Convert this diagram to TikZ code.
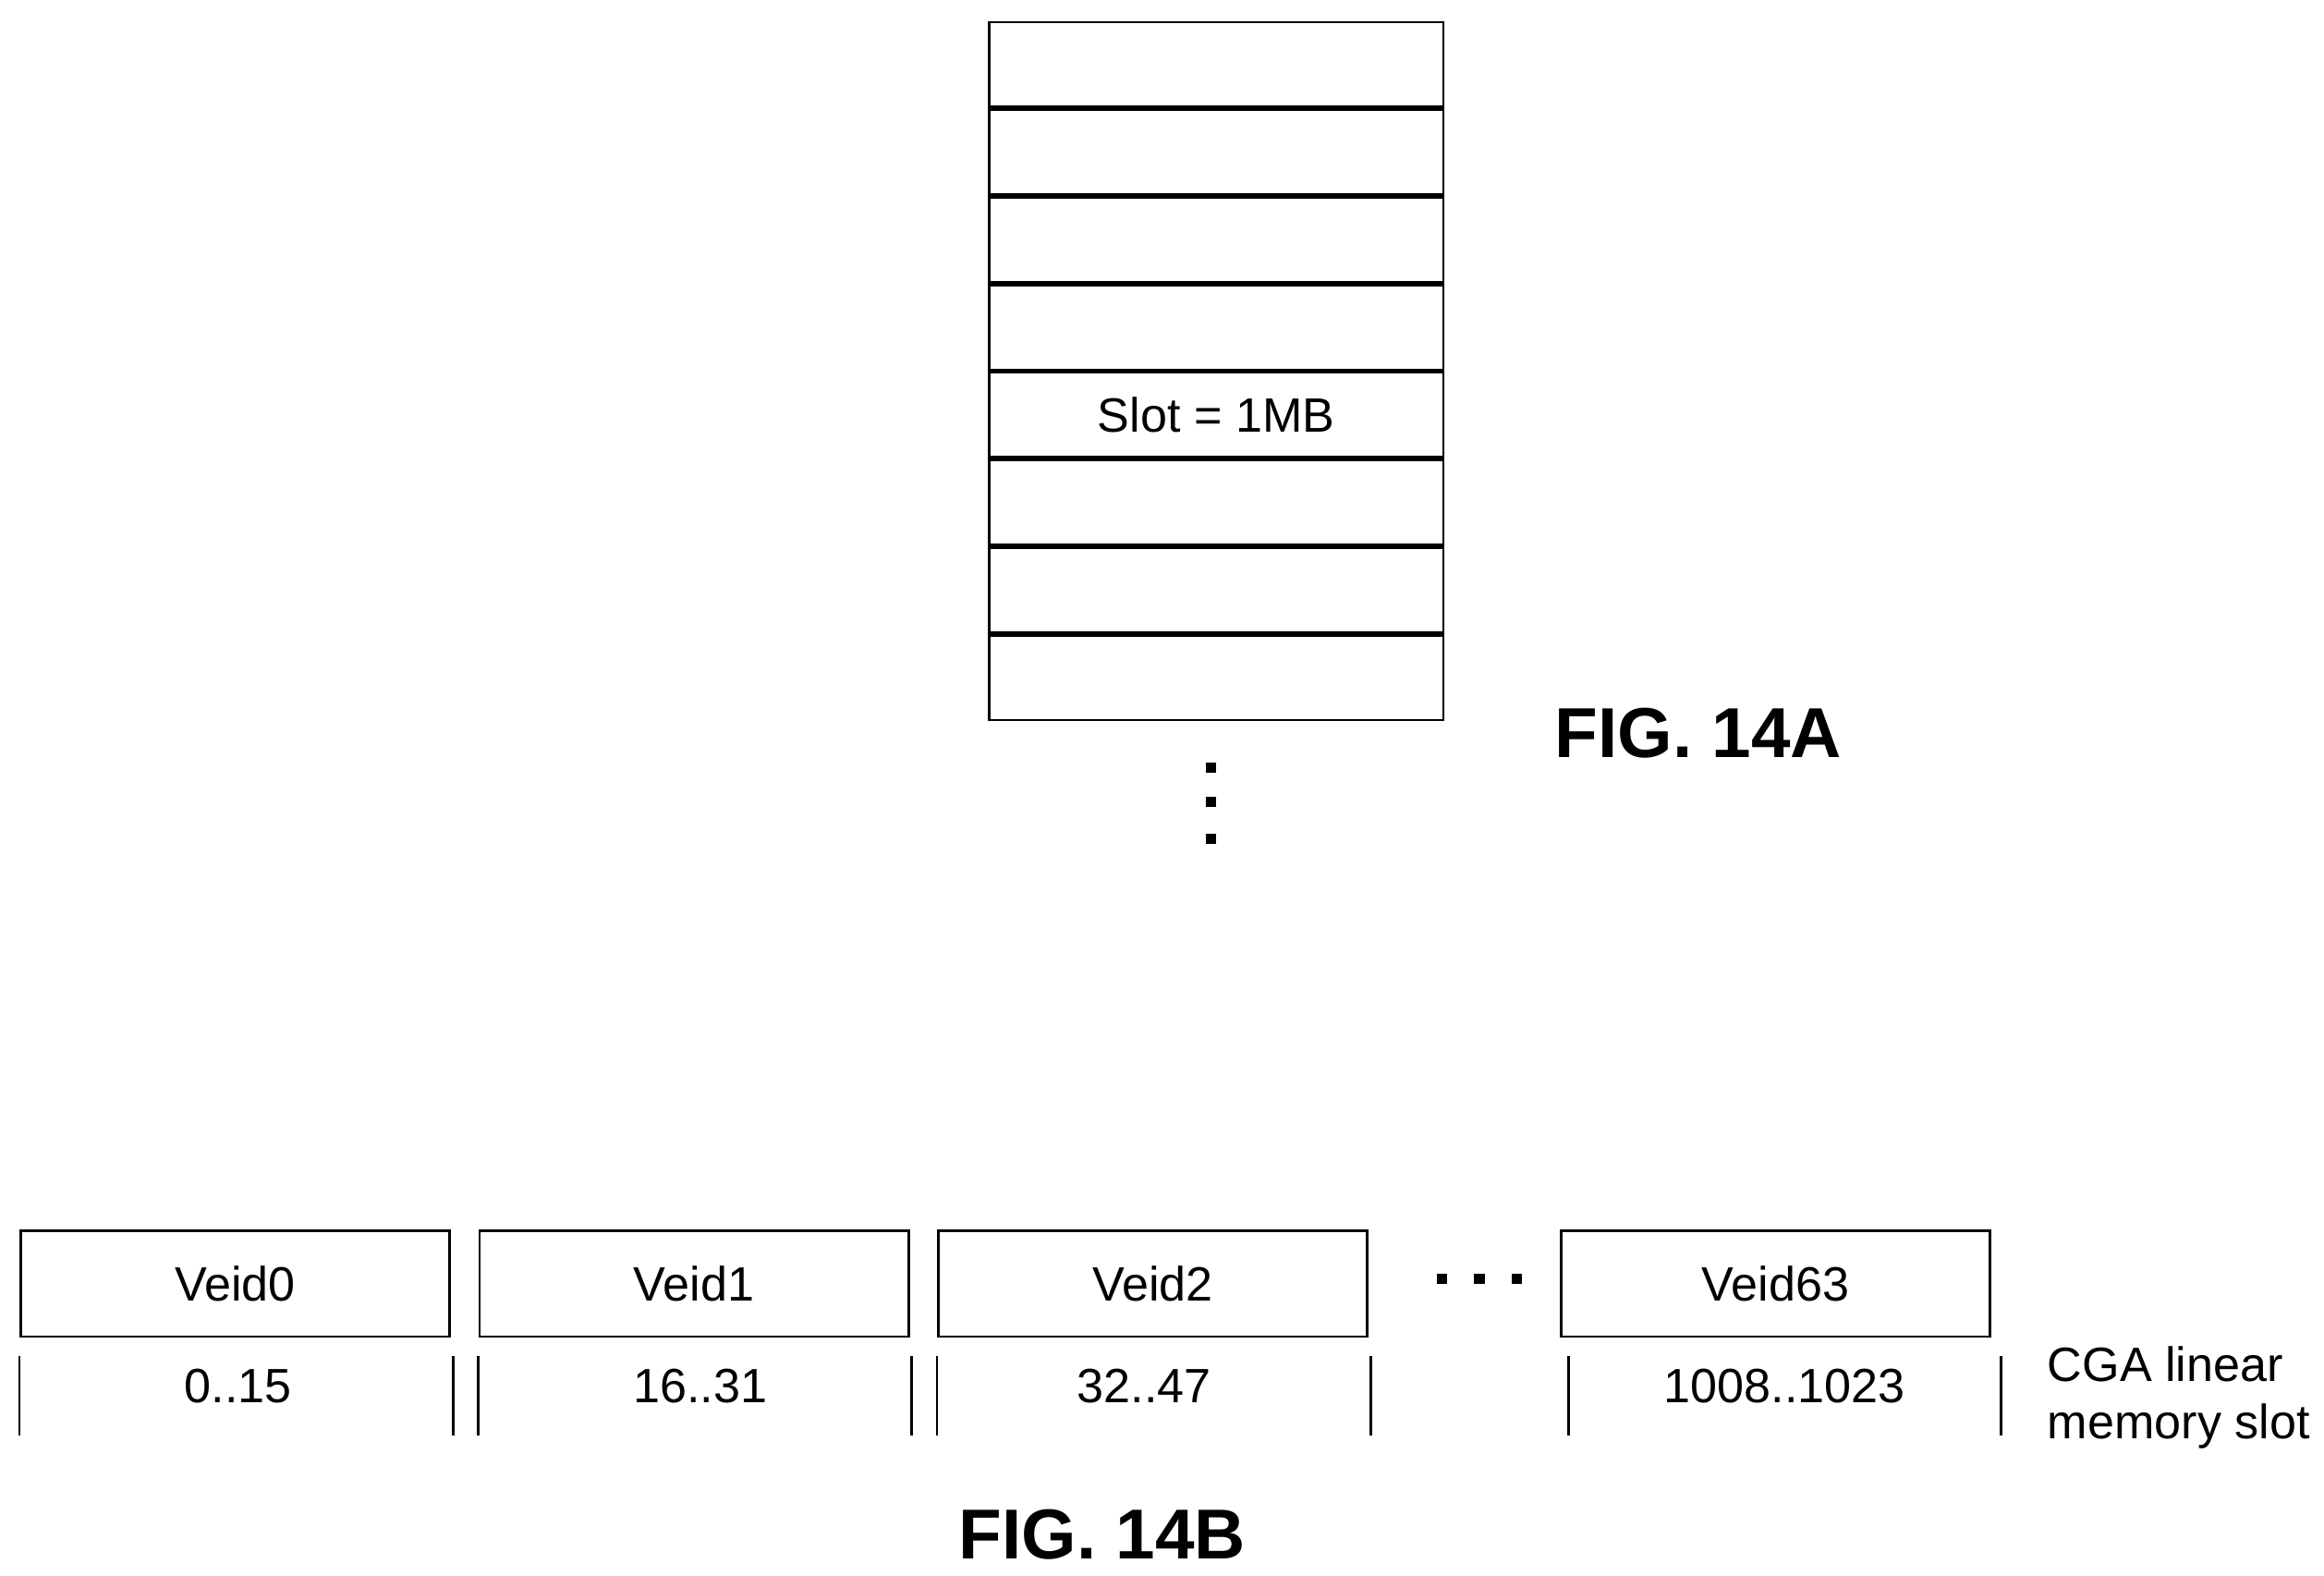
\documentclass[tikz,border=0pt]{standalone}
\usepackage{fontspec}
\setmainfont{Liberation Sans}
\usetikzlibrary{positioning}
\tikzset{
  slot/.style={draw, line width=0.5pt, minimum width=3.05cm, minimum height=0.57cm, inner sep=0pt, font=\fontsize{9.2}{11}\selectfont},
  veid/.style={draw, line width=0.5pt, minimum width=2.88cm, minimum height=0.71cm, inner sep=0pt, font=\fontsize{9.2}{11}\selectfont},
  slotrange/.style={font=\fontsize{9.2}{11}\selectfont},
  dot/.style={fill=black, minimum size=0.07cm, inner sep=0pt},
  figlabel/.style={font=\fontsize{13.5}{16}\selectfont\bfseries}
}
\newcommand{\tickh}{0.53}
\begin{document}
\begin{tikzpicture}
\useasboundingbox (0,0) rectangle (15.6,-10.57);

% slot stack
\node[slot, anchor=north west] (s1) at (6.63,-0.14) {};
\foreach \i [remember=\i as \j (initially 1)] in {2,...,8} {
  \node[slot, below=0pt of s\j] (s\i) {};
}
\node[font=\fontsize{9.2}{11}\selectfont] at (s5) {Slot = 1MB};
\foreach \k/\y in {a/5.15, b/5.38, c/5.63} {
  \node[dot] (vd\k) at (8.13,-\y) {};
}
\node[figlabel] (figa) at (11.40,-4.92) {FIG. 14A};

% veid boxes
\node[veid, anchor=north west] (v0) at (0.13,-8.25) {Veid0};
\node[veid, anchor=north west] (v1) at (3.21,-8.25) {Veid1};
\node[veid, anchor=north west] (v2) at (6.29,-8.25) {Veid2};
\node[veid, anchor=north west] (v63) at (10.47,-8.25) {Veid63};
\foreach \k/\x in {a/9.68, b/9.93, c/10.18} {
  \node[dot] (hd\k) at (\x,-8.58) {};
}

% memory slot ticks
\foreach \x [count=\n] in {0.13, 3.04, 3.21, 6.12, 6.29, 9.20, 10.53, 13.43} {
  \coordinate (t\n) at (\x,-9.10);
  \draw[line width=0.5pt] (t\n) -- ++(0,-\tickh);
}
\node[slotrange] (r0) at (1.60,-9.30) {0..15};
\node[slotrange] (r1) at (4.70,-9.30) {16..31};
\node[slotrange] (r2) at (7.68,-9.30) {32..47};
\node[slotrange] (r63) at (11.98,-9.30) {1008..1023};
\node[slotrange, anchor=west, align=left] (cga) at (13.62,-9.38) {CGA linear\\memory slot};
\node[figlabel] (figb) at (7.40,-10.30) {FIG. 14B};
\end{tikzpicture}
\end{document}
